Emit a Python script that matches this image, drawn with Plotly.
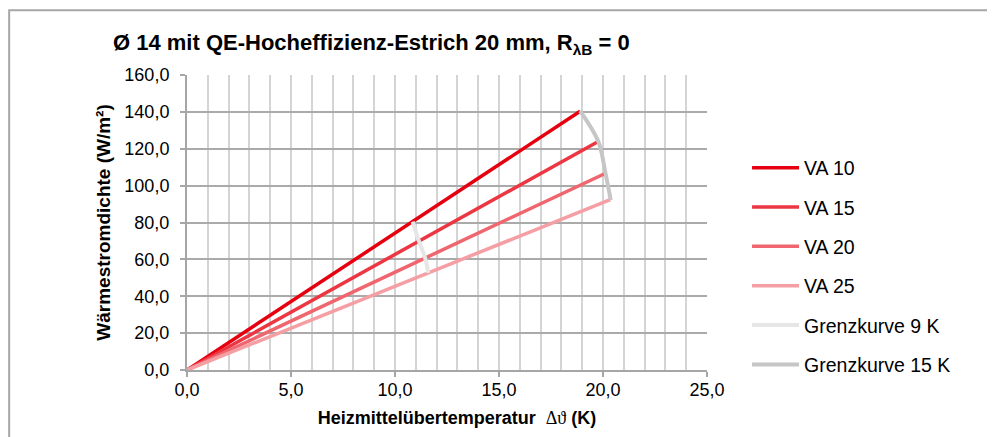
import plotly.graph_objects as go

# ---- data ----
series_names = ["VA 10", "VA 15", "VA 20", "VA 25"]
series_x = [[0.0, 18.9], [0.0, 19.75], [0.0, 20.1], [0.0, 20.35]]
series_y = [[0.0, 140.3], [0.0, 123.8], [0.0, 106.6], [0.0, 92.4]]
series_colors = ["#e6000f", "#ec3642", "#f0666f", "#f59ea3"]

grenz9_x = [10.85, 11.15, 11.45, 11.6]
grenz9_y = [80.5, 69.9, 60.7, 52.7]
grenz15_x = [18.9, 19.78, 20.12, 20.37]
grenz15_y = [140.6, 123.8, 106.6, 92.2]

title_text = "Ø 14 mit QE-Hocheffizienz-Estrich 20 mm, R<sub>λB</sub> = 0"
x_title = ("&nbsp;&nbsp;&nbsp;&nbsp;Heizmittelübertemperatur&nbsp;&nbsp;"
           "<span style=\"font-family:Liberation Serif;font-weight:normal\">Δϑ</span> (K)")
y_title = "Wärmestromdichte (W/m²)"

FONT = "Liberation Sans, Arial, sans-serif"

# the page body adds an 8 px offset; the figure is laid out to compensate
L, T = 179, 67
PW, PH = 520.5, 300.7
W, H = 987, 429

fig = go.Figure()
for i, name in enumerate(series_names):
    fig.add_trace(go.Scatter(
        x=series_x[i], y=series_y[i], mode="lines", name=name,
        line=dict(color=series_colors[i], width=3.5),
        legendgroup=name,
    ))
fig.add_trace(go.Scatter(
    x=grenz9_x, y=grenz9_y, mode="lines", name="Grenzkurve 9 K",
    line=dict(color="#e6e6e6", width=4, shape="spline"), legendgroup="g9",
))
fig.add_trace(go.Scatter(
    x=grenz15_x, y=grenz15_y, mode="lines", name="Grenzkurve 15 K",
    line=dict(color="#c6c6c6", width=4, shape="spline"), legendgroup="g15",
))

axis_grey = "#a6a6a6"

fig.update_layout(
    width=W, height=H,
    margin=dict(l=L, r=W - L - PW, t=T, b=H - T - PH),
    paper_bgcolor="white", plot_bgcolor="white",
    separators=",.",
    font=dict(family=FONT, size=18, color="#000000"),
    showlegend=True,
    title=dict(
        text=title_text, x=105 / W, xanchor="left", xref="container",
        y=1 - 34.5 / H, yanchor="middle", yref="container",
        font=dict(family=FONT, size=22, weight="bold", color="#000000"),
    ),
    legend=dict(
        x=1.077, xanchor="left", y=0.751, yanchor="top",
        font=dict(family=FONT, size=19.5, color="#000000"),
        tracegroupgap=11, bgcolor="rgba(0,0,0,0)",
        itemwidth=47,
    ),
    xaxis=dict(
        range=[0, 25], dtick=5, tick0=0, tickformat=".1f",
        showgrid=True, gridcolor="#d4d4d4", gridwidth=2,
        minor=dict(dtick=1, showgrid=True, gridcolor="#d4d4d4", gridwidth=2),
        showline=True, linecolor=axis_grey, linewidth=2,
        ticks="outside", ticklen=5, tickwidth=2, tickcolor=axis_grey,
        ticklabelstandoff=-3,
        zeroline=False,
        title=dict(text=x_title, standoff=13,
                   font=dict(family=FONT, size=18, weight="bold")),
        tickfont=dict(family=FONT, size=18),
    ),
    yaxis=dict(
        range=[0, 160], dtick=20, tick0=0, tickformat=".1f",
        showgrid=True, gridcolor="#aaaaaa", gridwidth=2,
        showline=True, linecolor=axis_grey, linewidth=2,
        ticks="outside", ticklen=5, tickwidth=2, tickcolor=axis_grey,
        ticklabelstandoff=7,
        zeroline=False,
        title=dict(text=y_title, standoff=9,
                   font=dict(family=FONT, size=19, weight="bold")),
        tickfont=dict(family=FONT, size=18),
    ),
    shapes=[dict(
        type="rect", xref="paper", yref="paper",
        x0=(1 - L) / PW, x1=1.7, y0=-0.6, y1=(T + PH - 1) / PH,
        line=dict(color="#a6a6a6", width=2), fillcolor="rgba(0,0,0,0)",
        layer="below",
    )],
)

fig.write_html("out.html")
